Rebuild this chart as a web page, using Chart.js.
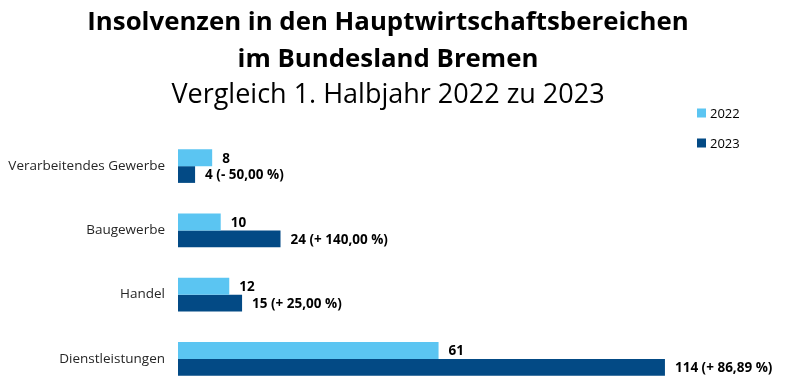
<!DOCTYPE html>
<html><head><meta charset="utf-8">
<script src="https://cdn.jsdelivr.net/npm/chart.js@4/dist/chart.umd.min.js"></script>
<style>html,body{margin:0;padding:0;background:#fff;overflow:hidden}#wrap{width:785px;height:388px;overflow:hidden}canvas{display:block}</style>
</head><body><div id="wrap"><canvas id="c" width="785" height="391"></canvas></div>
<script>
const categories = ["Verarbeitendes Gewerbe", "Baugewerbe", "Handel", "Dienstleistungen"];
const values2022 = [8, 10, 12, 61];
const values2023 = [4, 24, 15, 114];
const changes2023 = ["- 50,00 %", "+ 140,00 %", "+ 25,00 %", "+ 86,89 %"];
const seriesNames = ["2022", "2023"];
const titleLines = ["Insolvenzen in den Hauptwirtschaftsbereichen", "im Bundesland Bremen"];
const subtitleText = "Vergleich 1. Halbjahr 2022 zu 2023";

const FONT = "'Open Sans', sans-serif";
const C1 = "#5BC5F2", C2 = "#034A85";

const valueLabels = {
  id: "valueLabels",
  afterDatasetsDraw(chart) {
    const ctx = chart.ctx;
    ctx.save();
    ctx.font = "bold 13.5px " + FONT;
    ctx.fillStyle = "#000";
    ctx.textBaseline = "middle";
    ctx.textAlign = "left";
    chart.data.datasets.forEach((ds, di) => {
      chart.getDatasetMeta(di).data.forEach((bar, i) => {
        let t = String(ds.data[i]);
        if (di === 1) t += " (" + changes2023[i] + ")";
        ctx.fillText(t, bar.x + 10, bar.y + 1);
      });
    });
    ctx.restore();
  }
};

const customLegend = {
  id: "customLegend",
  afterDraw(chart) {
    const ctx = chart.ctx;
    ctx.save();
    ctx.font = "13px " + FONT;
    ctx.textBaseline = "middle";
    ctx.textAlign = "left";
    chart.data.datasets.forEach((ds, i) => {
      const y = 113 + i * 30;
      ctx.fillStyle = ds.backgroundColor;
      ctx.fillRect(697, y - 4.5, 9, 9);
      ctx.fillStyle = "#000";
      ctx.fillText(ds.label, 710, y + 1);
    });
    ctx.restore();
  }
};

new Chart(document.getElementById("c"), {
  type: "bar",
  data: {
    labels: categories,
    datasets: [
      { label: seriesNames[0], data: values2022, backgroundColor: C1 },
      { label: seriesNames[1], data: values2023, backgroundColor: C2 }
    ]
  },
  options: {
    indexAxis: "y",
    responsive: false,
    animation: false,
    events: [],
    layout: { padding: { top: 0, right: 9, bottom: 0, left: 0 } },
    datasets: { bar: { barPercentage: 1, categoryPercentage: 0.522 } },
    scales: {
      x: { display: false, min: 0, max: 140 },
      y: {
        grid: { display: false, drawTicks: false },
        border: { display: false },
        ticks: { font: { family: FONT, size: 13.5 }, color: "#262626", padding: 13 },
        afterFit(scale) { scale.width = 178; scale.paddingTop = 0; scale.paddingBottom = 0; }
      }
    },
    plugins: {
      legend: { display: false },
      tooltip: { enabled: false },
      title: {
        display: true, text: titleLines, color: "#000",
        font: { family: FONT, size: 25.8, weight: "bold", lineHeight: 37 / 25.8 },
        padding: { top: 4, bottom: 0 }
      },
      subtitle: {
        display: true, text: subtitleText, color: "#000",
        font: { family: FONT, size: 27, weight: "normal", lineHeight: 34 / 27 },
        padding: { top: 0, bottom: 22 }
      }
    }
  },
  plugins: [valueLabels, customLegend]
});
</script>
</body></html>
